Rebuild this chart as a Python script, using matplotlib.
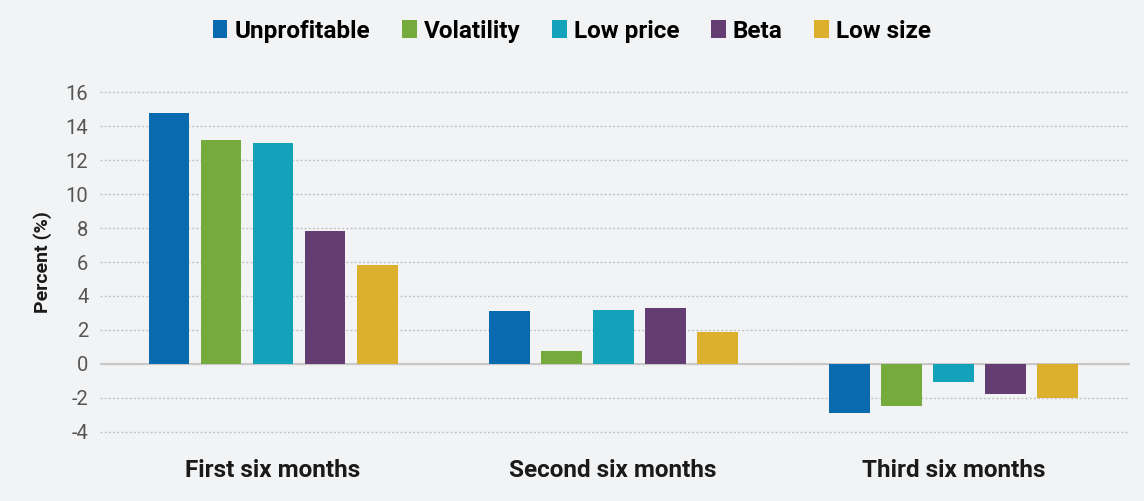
import numpy as np
import matplotlib.pyplot as plt
from matplotlib.patches import Patch

# データ
periods = ["First six months", "Second six months", "Third six months"]
factors = ["Unprofitable", "Volatility", "Low price", "Beta", "Low size"]
unprofitable = [14.8, 3.1, -2.9]
volatility = [13.2, 0.75, -2.5]
low_price = [13.0, 3.2, -1.05]
beta = [7.8, 3.3, -1.8]
low_size = [5.8, 1.9, -2.0]
colors = ["#0a6ab0", "#74ab3c", "#12a2b9", "#643e72", "#dcb02c"]

series = [unprofitable, volatility, low_price, beta, low_size]

plt.rcParams['font.family'] = ['Roboto', 'DejaVu Sans']
plt.rcParams['axes.unicode_minus'] = False
bg = "#f2f3f5"

fig = plt.figure(figsize=(11.44, 5.01), dpi=100, facecolor=bg)
ax = fig.add_axes([0.087, 0.128, 0.901, 0.698], facecolor=bg)

x = np.arange(len(periods))
step = 0.153
width = 0.12
for i, (vals, c) in enumerate(zip(series, colors)):
    ax.bar(x + (i - 2) * step, vals, width, color=c, zorder=3)

ax.set_xlim(-0.51, 2.52)
ax.set_ylim(-4.3, 16.3)
ax.set_yticks(np.arange(-4, 17, 2))
ax.tick_params(axis='y', length=0, labelsize=14.5, labelcolor="#555555", pad=8)
ax.tick_params(axis='x', length=0, pad=16)
ax.set_xticks(x)
ax.set_xticklabels(periods, fontsize=17.5, fontweight='bold', color="#1a1a1a")

ax.grid(axis='y', linestyle=(0, (1.5, 1.5)), color="#c4c4c4", linewidth=1, zorder=0)
ax.axhline(0, color="#c8c8c8", linewidth=1.5, zorder=2)
for s in ax.spines.values():
    s.set_visible(False)

ax.set_ylabel("Percent (%)", fontsize=14, fontweight='bold', color="#1a1a1a", labelpad=10)

handles = [Patch(facecolor=c, label=f) for f, c in zip(factors, colors)]
fig.legend(handles=handles, loc='center', bbox_to_anchor=(0.5, 0.938), ncol=5,
           frameon=False, handlelength=0.6, handleheight=0.8, handletextpad=0.3,
           columnspacing=1.3, prop={'weight': 'bold', 'size': 17.5})

plt.savefig("out.png", dpi=100, facecolor=bg)
